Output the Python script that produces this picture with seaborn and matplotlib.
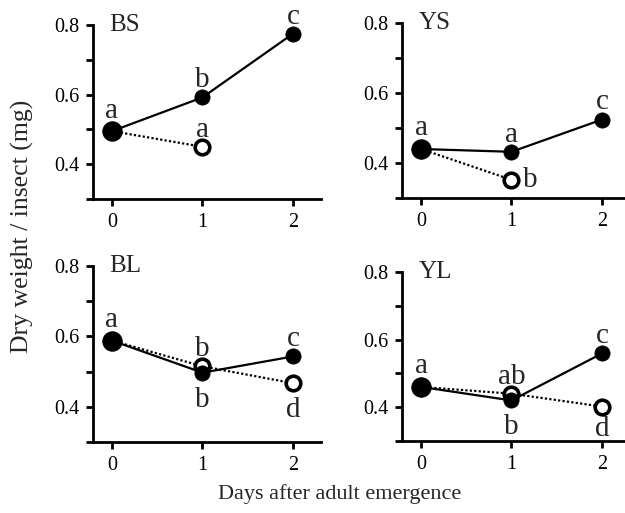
import matplotlib
matplotlib.use("Agg")
import matplotlib.pyplot as plt
import seaborn as sns
import pandas as pd

sns.set_theme(style="ticks")
plt.rcParams['font.family'] = ['Liberation Serif', 'DejaVu Serif']

days = [0, 1, 2]
panels = ["BS", "YS", "BL", "YL"]
filled = {
    "BS": [0.495, 0.592, 0.775],
    "YS": [0.440, 0.432, 0.524],
    "BL": [0.588, 0.497, 0.543],
    "YL": [0.460, 0.420, 0.559],
}
opened = {
    "BS": [0.495, 0.450, None],
    "YS": [0.440, 0.352, None],
    "BL": [0.588, 0.515, 0.467],
    "YL": [0.460, 0.440, 0.402],
}
filled_letters = {
    "BS": ["a", "b", "c"],
    "YS": ["a", "a", "c"],
    "BL": ["a", "b", "c"],
    "YL": ["a", "b", "c"],
}
open_letters = {
    "BS": [None, "a", None],
    "YS": [None, "b", None],
    "BL": [None, "b", "d"],
    "YL": [None, "ab", "d"],
}
# placement of letters
filled_pos = {
    "BS": ["up0", "up", "up"],
    "YS": ["up0", "up", "up"],
    "BL": ["up0", "down", "up"],
    "YL": ["up0", "down", "up"],
}
open_pos = {
    "BS": [None, "up", None],
    "YS": [None, "right", None],
    "BL": [None, "up", "down"],
    "YL": [None, "up", "down_near"],
}
yticks = [0.3, 0.4, 0.5, 0.6, 0.7, 0.8]
yticklabels = ["", "0.4", "", "0.6", "", "0.8"]
xticks = [0, 1, 2]

W, H = 625, 513
fig = plt.figure(figsize=(W / 100, H / 100), dpi=100)

# axes boxes in pixels: left, top, right, bottom
boxes = {
    "BS": (93, 25, 321, 199),
    "YS": (402, 23, 630, 198),
    "BL": (93, 266, 321, 442),
    "YL": (402, 272, 630, 441),
}

offs = {"up": ((0, 3), "center", "bottom"),
        "up0": ((0, 5.5), "center", "bottom"),
        "down": ((0, -10), "center", "top"),
        "down_near": ((0, -6.5), "center", "top"),
        "right": ((8, 0), "left", "center")}

for p in panels:
    l, t, r, b = boxes[p]
    ax = fig.add_axes([l / W, 1 - b / H, (r - l) / W, (b - t) / H])
    dfo = pd.DataFrame({"day": days, "w": opened[p]}).dropna()
    dff = pd.DataFrame({"day": days, "w": filled[p]})
    sns.lineplot(data=dfo, x="day", y="w", ax=ax, color="black",
                 linestyle=(0, (1, 1)), linewidth=1.6, marker="o",
                 markersize=10.5, markerfacecolor="white",
                 markeredgecolor="black", markeredgewidth=2.6, clip_on=False,
                 zorder=2)
    sns.lineplot(data=dff, x="day", y="w", ax=ax, color="black",
                 linewidth=1.6, marker="o", markersize=11,
                 markerfacecolor="black", markeredgecolor="black",
                 markeredgewidth=0.5, clip_on=False, zorder=3)
    # larger start point (both series coincide on day 0)
    sns.scatterplot(data=dff.iloc[:1], x="day", y="w", ax=ax, color="black",
                    s=200, edgecolor="black", linewidth=0.5, zorder=4,
                    clip_on=False, legend=False)
    for i, d in enumerate(days):
        if filled_letters[p][i]:
            xy_off, ha, va = offs[filled_pos[p][i]]
            ax.annotate(filled_letters[p][i], (d, filled[p][i]), xytext=xy_off,
                        textcoords="offset points", ha=ha, va=va,
                        fontsize=21, annotation_clip=False)
        if open_letters[p][i]:
            xy_off, ha, va = offs[open_pos[p][i]]
            ax.annotate(open_letters[p][i], (d, opened[p][i]), xytext=xy_off,
                        textcoords="offset points", ha=ha, va=va,
                        fontsize=21, annotation_clip=False, zorder=5)
    ax.text(-0.03, 0.8, p, ha="left", va="center", fontsize=18)
    ax.set_xlim(-0.21, 2.31)
    ax.set_ylim(0.3, 0.8)
    ax.set_xticks(xticks)
    ax.set_xticklabels([str(x) for x in xticks])
    ax.set_yticks(yticks)
    ax.set_yticklabels(yticklabels)
    ax.set_xlabel("")
    ax.set_ylabel("")
    for s in ["top", "right"]:
        ax.spines[s].set_visible(False)
    for s in ["left", "bottom"]:
        ax.spines[s].set_linewidth(2.0)
        ax.spines[s].set_color("black")
    ax.tick_params(axis="both", length=5, width=2.0, color="black",
                   labelsize=14.5, labelcolor="black", pad=5)
    ax.set_facecolor("none")

fig.text(340 / W, 1 - 494 / H, "Days after adult emergence", ha="center",
         va="center", fontsize=16)
fig.text(22 / W, 1 - 226 / H, "Dry weight / insect (mg)", ha="center",
         va="center", rotation=90, fontsize=18.5)

fig.savefig("out.png", dpi=100, facecolor="white")
